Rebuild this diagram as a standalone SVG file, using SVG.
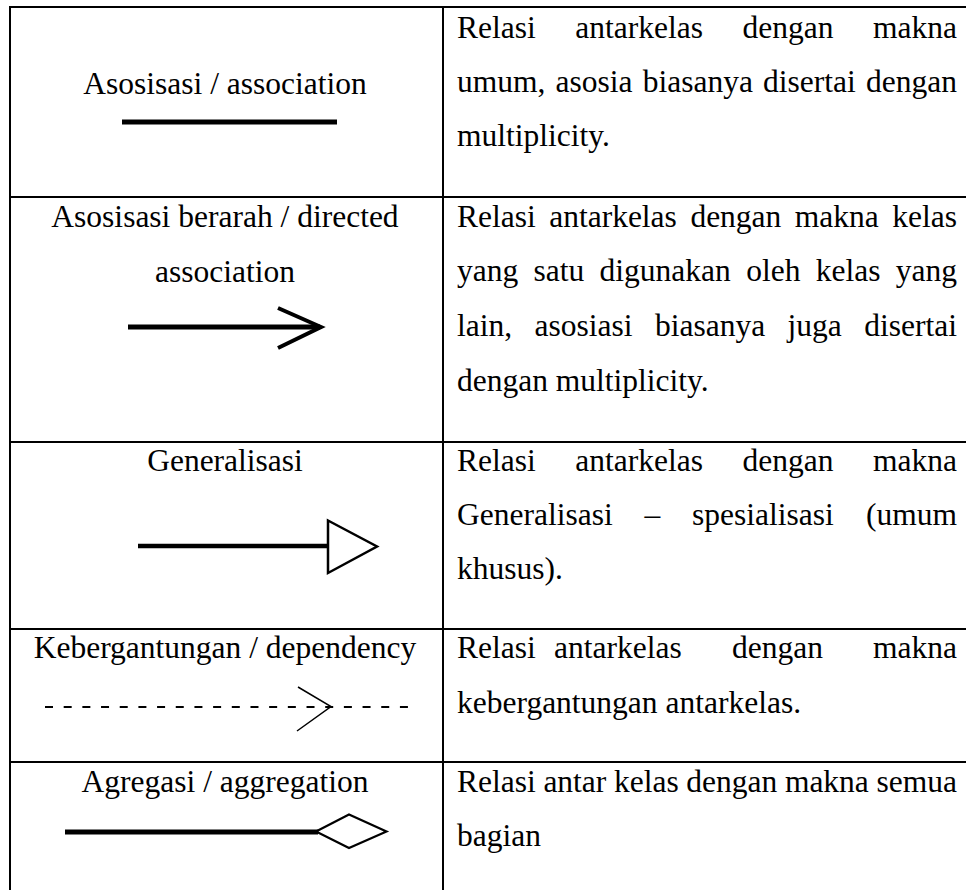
<svg xmlns="http://www.w3.org/2000/svg" width="966" height="890" viewBox="0 0 966 890">
  <style>
    .t { font-family: "Liberation Serif", "Times New Roman", serif; font-size: 31.5px; fill: #000; }
    .c { text-anchor: middle; }
    .e { text-anchor: end; }
    .grid line { stroke: #000; stroke-width: 2; }
    .bar { stroke: #000; stroke-width: 5; fill: none; }
    .head { stroke: #000; stroke-width: 2.5; fill: #fff; stroke-linejoin: miter; }
  </style>
  <rect x="0" y="0" width="966" height="890" fill="#fff"/>

  <!-- table rules -->
  <g id="grid" class="grid">
    <line x1="10" y1="7" x2="966" y2="7"/>
    <line x1="10" y1="197" x2="966" y2="197"/>
    <line x1="10" y1="442" x2="966" y2="442"/>
    <line x1="10" y1="629" x2="966" y2="629"/>
    <line x1="10" y1="762" x2="966" y2="762"/>
    <line x1="10" y1="6" x2="10" y2="890"/>
    <line x1="443" y1="6" x2="443" y2="890"/>
  </g>

  <!-- row 1: association -->
  <g id="association">
    <text class="t c" x="225" y="94">Asosisasi / association</text>
    <line class="bar" x1="122" y1="122" x2="337" y2="122"/>
    <text class="t" y="38"><tspan x="457">Relasi</tspan><tspan x="575.3">antarkelas</tspan><tspan x="742.5">dengan</tspan><tspan x="957" class="e">makna</tspan></text>
    <text class="t" y="92"><tspan x="457">umum,</tspan><tspan x="555.6">asosia</tspan><tspan x="642.7">biasanya</tspan><tspan x="763.1">disertai</tspan><tspan x="957" class="e">dengan</tspan></text>
    <text class="t" x="457" y="146">multiplicity.</text>
  </g>

  <!-- row 2: directed association -->
  <g id="directed-association">
    <text class="t c" x="225" y="227">Asosisasi berarah / directed</text>
    <text class="t c" x="225" y="282">association</text>
    <line class="bar" x1="128" y1="327" x2="320" y2="327"/>
    <polyline points="278,308 321,327 278,348" fill="none" stroke="#000" stroke-width="4" stroke-linejoin="miter"/>
    <text class="t" y="227"><tspan x="457">Relasi</tspan><tspan x="549.2">antarkelas</tspan><tspan x="690.4">dengan</tspan><tspan x="794.8">makna</tspan><tspan x="957" class="e">kelas</tspan></text>
    <text class="t" y="281"><tspan x="457">yang</tspan><tspan x="533.6">satu</tspan><tspan x="599.6">digunakan</tspan><tspan x="746.2">oleh</tspan><tspan x="815.7">kelas</tspan><tspan x="957" class="e">yang</tspan></text>
    <text class="t" y="336"><tspan x="457">lain,</tspan><tspan x="534.6">asosiasi</tspan><tspan x="655">biasanya</tspan><tspan x="787.6">juga</tspan><tspan x="957" class="e">disertai</tspan></text>
    <text class="t" x="457" y="391">dengan multiplicity.</text>
  </g>

  <!-- row 3: generalization -->
  <g id="generalization">
    <text class="t c" x="225" y="471">Generalisasi</text>
    <line class="bar" x1="138" y1="546" x2="328" y2="546" style="stroke-width:4.5"/>
    <polygon class="head" points="328,520.5 377,546.5 328,573"/>
    <text class="t" y="471"><tspan x="457">Relasi</tspan><tspan x="575.3">antarkelas</tspan><tspan x="742.5">dengan</tspan><tspan x="957" class="e">makna</tspan></text>
    <text class="t" y="525"><tspan x="457">Generalisasi</tspan><tspan x="644.5">–</tspan><tspan x="692.1">spesialisasi</tspan><tspan x="957" class="e">(umum</tspan></text>
    <text class="t" x="457" y="579">khusus).</text>
  </g>

  <!-- row 4: dependency -->
  <g id="dependency">
    <text class="t c" x="225" y="658">Kebergantungan / dependency</text>
    <line x1="45" y1="707" x2="408" y2="707" stroke="#000" stroke-width="2" stroke-dasharray="8 10.68"/>
    <polyline points="298,687 331,706.5 297,731" fill="none" stroke="#000" stroke-width="1.5"/>
    <text class="t" y="658"><tspan x="457">Relasi</tspan><tspan x="554">antarkelas</tspan><tspan x="732">dengan</tspan><tspan x="957" class="e">makna</tspan></text>
    <text class="t" x="457" y="713">kebergantungan antarkelas.</text>
  </g>

  <!-- row 5: aggregation -->
  <g id="aggregation">
    <text class="t c" x="225" y="792">Agregasi / aggregation</text>
    <line class="bar" x1="65" y1="832" x2="318" y2="832"/>
    <polygon class="head" points="316,831.5 349,814.5 386.5,831.5 349,848" style="stroke-width:2.2"/>
    <text class="t" y="792"><tspan x="457">Relasi</tspan><tspan x="543.4">antar</tspan><tspan x="614">kelas</tspan><tspan x="686.3">dengan</tspan><tspan x="784.9">makna</tspan><tspan x="957" class="e">semua</tspan></text>
    <text class="t" x="457" y="846">bagian</text>
  </g>
</svg>
